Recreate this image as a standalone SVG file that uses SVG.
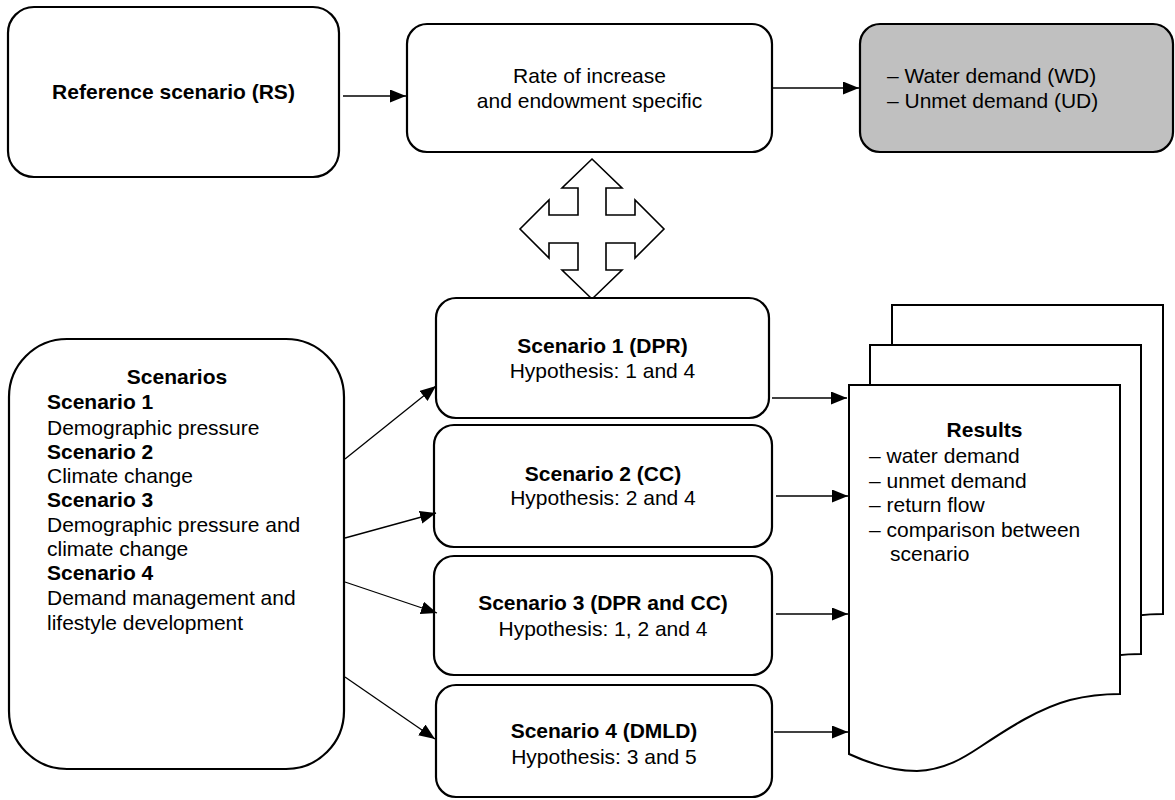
<svg xmlns="http://www.w3.org/2000/svg" width="1175" height="800" viewBox="0 0 1175 800">
<style>
text{font-family:"Liberation Sans",Arial,sans-serif;font-size:21px;fill:#000}
.b{font-weight:bold}
.c{text-anchor:middle}
.box{fill:#fff;stroke:#000;stroke-width:2.2}
.grey{fill:#c0c0c0}
.doc{fill:#fff;stroke:#000;stroke-width:2}
.con{stroke:#000;stroke-width:1.3;fill:none;marker-end:url(#ah)}
</style>
<defs>
<marker id="ah" markerUnits="userSpaceOnUse" markerWidth="17" markerHeight="14" refX="16" refY="6.5" orient="auto">
<path d="M0,0 L16,6.5 L0,13 Z" fill="#000"/>
</marker>
<path id="docshape" d="M0,0 H271 V309 C256,309 241,310 221,315 C191,323 161,342 131,362 C116,372 96,385 68,386 C51,386 26,381 0,369 Z"/>
</defs>
<rect width="1175" height="800" fill="#fff"/>

<g id="rs">
<rect class="box" x="8" y="7" width="331" height="170" rx="26"/>
<text class="b c" x="173.5" y="99">Reference scenario (RS)</text>
</g>
<g id="rate">
<rect class="box" x="407" y="24" width="365" height="128" rx="20"/>
<text class="c" x="589.5" y="83">Rate of increase</text>
<text class="c" x="589.5" y="108">and endowment specific</text>
</g>
<g id="demand">
<rect class="box grey" x="860" y="24" width="313" height="128" rx="20"/>
<text x="887" y="83">– Water demand (WD)</text>
<text x="887" y="108">– Unmet demand (UD)</text>
</g>
<g id="crossarrow">
<polygon fill="#fff" stroke="#000" stroke-width="1.6" points="592,159 622,188 606,188 606,215 635,215 635,200 664,229 635,258 635,243 606,243 606,270 622,270 592,299 562,270 578,270 578,243 549,243 549,258 520,229 549,200 549,215 578,215 578,188 562,188"/>
</g>
<g id="scenarios">
<rect class="box" x="9" y="339" width="335" height="430" rx="58"/>
<text class="b c" x="177" y="384">Scenarios</text>
<text class="b" x="47" y="409">Scenario 1</text>
<text x="47" y="435">Demographic pressure</text>
<text class="b" x="47" y="459">Scenario 2</text>
<text x="47" y="483">Climate change</text>
<text class="b" x="47" y="507">Scenario 3</text>
<text x="47" y="532">Demographic pressure and</text>
<text x="47" y="556">climate change</text>
<text class="b" x="47" y="580">Scenario 4</text>
<text x="47" y="605">Demand management and</text>
<text x="47" y="630">lifestyle development</text>
</g>
<g id="s1">
<rect class="box" x="436" y="298" width="333" height="120" rx="20"/>
<text class="b c" x="602.5" y="353">Scenario 1 (DPR)</text>
<text class="c" x="602.5" y="378">Hypothesis: 1 and 4</text>
</g>
<g id="s2">
<rect class="box" x="434" y="425" width="338" height="122" rx="20"/>
<text class="b c" x="603" y="481">Scenario 2 (CC)</text>
<text class="c" x="603" y="505">Hypothesis: 2 and 4</text>
</g>
<g id="s3">
<rect class="box" x="434" y="556" width="338" height="119" rx="20"/>
<text class="b c" x="603" y="610">Scenario 3 (DPR and CC)</text>
<text class="c" x="603" y="636">Hypothesis: 1, 2 and 4</text>
</g>
<g id="s4">
<rect class="box" x="436" y="685" width="336" height="112" rx="20"/>
<text class="b c" x="604" y="738">Scenario 4 (DMLD)</text>
<text class="c" x="604" y="764">Hypothesis: 3 and 5</text>
</g>
<g id="results">
<use href="#docshape" class="doc" transform="translate(892,305)"/>
<use href="#docshape" class="doc" transform="translate(870,345)"/>
<use href="#docshape" class="doc" transform="translate(849,385)"/>
<text class="b c" x="984.5" y="437">Results</text>
<text x="869" y="463">– water demand</text>
<text x="869" y="488">– unmet demand</text>
<text x="869" y="512">– return flow</text>
<text x="869" y="537">– comparison between</text>
<text x="890" y="561">scenario</text>
</g>
<g id="connectors">
<line class="con" x1="343" y1="96" x2="406" y2="96"/>
<line class="con" x1="772" y1="88" x2="859" y2="88"/>
<line class="con" x1="345" y1="459" x2="436" y2="386"/>
<line class="con" x1="345" y1="538" x2="436" y2="513"/>
<line class="con" x1="345" y1="582" x2="437" y2="613"/>
<line class="con" x1="345" y1="677" x2="435" y2="739"/>
<line class="con" x1="772" y1="398" x2="847" y2="398"/>
<line class="con" x1="776" y1="496" x2="848" y2="496"/>
<line class="con" x1="776" y1="614" x2="848" y2="614"/>
<line class="con" x1="774" y1="732" x2="848" y2="732"/>
</g>
</svg>
